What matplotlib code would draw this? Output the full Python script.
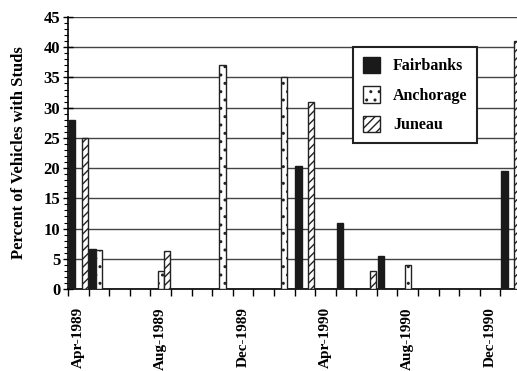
import numpy as np
import matplotlib.pyplot as plt
from matplotlib.ticker import MultipleLocator

plt.rcParams['font.family'] = ['Liberation Serif', 'DejaVu Serif']
plt.rcParams['font.weight'] = 'bold'
plt.rcParams['hatch.linewidth'] = 1.0

months = ['Apr-1989', 'May-1989', 'Jun-1989', 'Jul-1989', 'Aug-1989', 'Sep-1989',
          'Oct-1989', 'Nov-1989', 'Dec-1989', 'Jan-1990', 'Feb-1990', 'Mar-1990',
          'Apr-1990', 'May-1990', 'Jun-1990', 'Jul-1990', 'Aug-1990', 'Sep-1990',
          'Oct-1990', 'Nov-1990', 'Dec-1990', 'Jan-1991']
nan = np.nan
fairbanks = [28.0, 6.7, nan, nan, nan, nan, nan, nan, nan, nan, nan, 20.3,
             nan, 11.0, nan, 5.5, nan, nan, nan, nan, nan, 19.5]
anchorage = [nan, 6.5, nan, nan, 3.0, nan, nan, 37.0, nan, nan, 35.0, nan,
             nan, nan, nan, nan, 4.0, nan, nan, nan, nan, nan]
juneau = [25.0, nan, nan, nan, 6.3, nan, nan, nan, nan, nan, nan, 31.0,
          nan, nan, 3.0, nan, nan, nan, nan, nan, nan, 41.0]
labelled = ['Apr-1989', 'Aug-1989', 'Dec-1989', 'Apr-1990', 'Aug-1990', 'Dec-1990']

fig = plt.figure(figsize=(5.17, 3.71), dpi=100)
# the plot area runs slightly past the right edge, as in the scan
ax = fig.add_axes([68 / 517, 82 / 371, 453 / 517, 272 / 371])

x = np.arange(len(months))
w = 0.31
styles = [
    ('Fairbanks', fairbanks, dict(color='#1a1a1a', edgecolor='#1a1a1a')),
    ('Anchorage', anchorage, dict(facecolor='white', edgecolor='#222222', hatch='..')),
    ('Juneau', juneau, dict(facecolor='white', edgecolor='#222222', hatch='////')),
]
for i, (name, vals, kw) in enumerate(styles):
    ax.bar(x + 0.04 + w * i, vals, width=w, align='edge', linewidth=1.0,
           label=name, zorder=3, **kw)

ax.set_xlim(0, len(months))
ax.set_ylim(0, 45)
ax.yaxis.set_major_locator(MultipleLocator(5))
ax.yaxis.set_minor_locator(MultipleLocator(1))
ax.grid(axis='y', color='#444444', linewidth=1.0, zorder=0)

ax.set_xticks([months.index(m) + 0.5 for m in labelled])
ax.set_xticklabels(labelled, rotation=90, fontsize=11, fontweight='bold')
ax.set_xticks(np.arange(len(months) + 1), minor=True)
ax.tick_params(axis='x', which='major', length=0, pad=13)
ax.tick_params(axis='x', which='minor', length=5, width=1, direction='out')
ax.tick_params(axis='y', which='major', length=7, width=1, direction='inout',
               labelsize=12, pad=2)
ax.tick_params(axis='y', which='minor', length=3, width=0.8, direction='out')
for t in ax.get_yticklabels():
    t.set_fontweight('bold')

for side in ['top', 'right']:
    ax.spines[side].set_visible(False)
ax.spines['left'].set_linewidth(1.2)
ax.spines['bottom'].set_linewidth(1.2)

ax.set_ylabel('Percent of Vehicles with Studs', fontsize=12, fontweight='bold',
              labelpad=12)

leg = ax.legend(loc='upper left', bbox_to_anchor=(285 / 453, 1 - 30 / 272),
                fontsize=11.5, frameon=True, fancybox=False, framealpha=1,
                edgecolor='#222222', handlelength=1.1, handleheight=1.2,
                handletextpad=0.8, labelspacing=0.75, borderpad=0.6,
                borderaxespad=0)
leg.get_frame().set_linewidth(1.5)
leg.set_zorder(5)

fig.savefig('out.png', dpi=100)
